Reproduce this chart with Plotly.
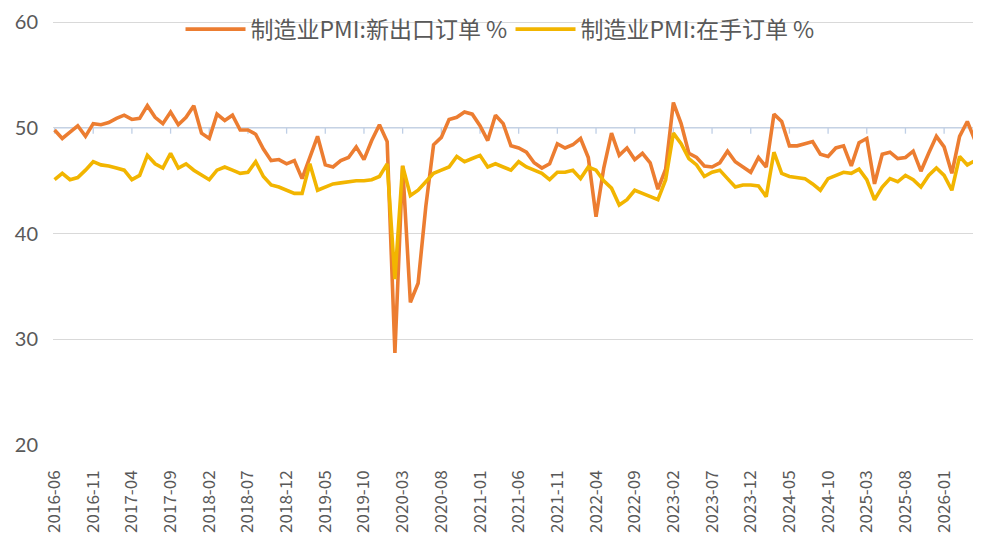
import plotly.graph_objects as go

# ---- data -------------------------------------------------------------
start_year, start_month, n_months = 2016, 6, 120
months = []
y, m = start_year, start_month
for _ in range(n_months):
    months.append(f"{y}-{m:02d}")
    m += 1
    if m > 12:
        m = 1
        y += 1

tick_labels = [
    "2016-06", "2016-11", "2017-04", "2017-09", "2018-02", "2018-07",
    "2018-12", "2019-05", "2019-10", "2020-03", "2020-08", "2021-01",
    "2021-06", "2021-11", "2022-04", "2022-09", "2023-02", "2023-07",
    "2023-12", "2024-05", "2024-10", "2025-03", "2025-08", "2026-01",
]

new_export_orders = [
    49.8, 49.0, 49.6, 50.2, 49.2, 50.4, 50.3, 50.5, 50.9, 51.2, 50.8, 50.9,
    52.1, 51.0, 50.4, 51.5, 50.3, 51.0, 52.1, 49.5, 49.0, 51.3, 50.7, 51.2,
    49.8, 49.8, 49.4, 48.0, 46.9, 47.0, 46.6, 46.9, 45.2, 47.1, 49.2, 46.5,
    46.3, 46.9, 47.2, 48.2, 47.0, 48.8, 50.3, 48.7,
    28.7, 46.4, 33.5, 35.3, 42.6, 48.4, 49.1, 50.8, 51.0, 51.5, 51.3, 50.2,
    48.8, 51.2, 50.4, 48.3, 48.1, 47.7, 46.7, 46.2, 46.6, 48.5, 48.1, 48.4,
    49.0, 47.2, 41.6, 46.2, 49.5, 47.4, 48.1, 47.0, 47.6, 46.7, 44.2, 46.1,
    52.4, 50.4, 47.6, 47.2, 46.4, 46.3, 46.7, 47.8, 46.8, 46.3, 45.8, 47.2,
    46.3, 51.3, 50.6, 48.3, 48.3, 48.5, 48.7, 47.5, 47.3, 48.1, 48.3, 46.4,
    48.6, 49.0, 44.7, 47.5, 47.7, 47.1, 47.2, 47.8, 45.9,
    47.6, 49.2, 48.2, 45.7, 49.2, 50.6, 48.8,
]

backlog_orders = [
    45.1, 45.7, 45.1, 45.3, 46.0, 46.8, 46.5, 46.4, 46.2, 46.0, 45.1, 45.5,
    47.4, 46.6, 46.2, 47.6, 46.2, 46.6, 46.0, 45.5, 45.1, 46.0, 46.3, 46.0,
    45.7, 45.8, 46.8, 45.4, 44.6, 44.4, 44.1, 43.8, 43.8, 46.6, 44.1, 44.4,
    44.7, 44.8, 44.9, 45.0, 45.0, 45.1, 45.4, 46.6,
    35.7, 46.4, 43.6, 44.1, 44.9, 45.7, 46.0, 46.3, 47.3, 46.8, 47.1, 47.4,
    46.3, 46.6, 46.3, 46.0, 46.8, 46.3, 46.0, 45.7, 45.1, 45.8, 45.8, 46.0,
    45.2, 46.3, 46.0, 45.0, 44.3, 42.7, 43.2, 44.1, 43.8, 43.5, 43.2, 45.1,
    49.5, 48.5, 47.1, 46.5, 45.4, 45.8, 46.0, 45.2, 44.4, 44.6, 44.6, 44.5,
    43.5, 47.7, 45.7, 45.4, 45.3, 45.2, 44.7, 44.1, 45.2, 45.5, 45.8, 45.7,
    46.1, 45.1, 43.2, 44.4, 45.2, 44.9, 45.5, 45.1, 44.4,
    45.5, 46.2, 45.5, 44.1, 47.3, 46.5, 46.9,
]

series_names = ["制造业PMI:新出口订单 %", "制造业PMI:在手订单 %"]
series_colors = ["#EC7D31", "#F2B500"]

# ---- figure -----------------------------------------------------------
font_family = "Noto Sans CJK SC, Noto Sans, sans-serif"
text_color = "#595959"
axis_blue = "#BFCFE6"

fig = go.Figure()
for name, vals, col in zip(series_names, [new_export_orders, backlog_orders], series_colors):
    fig.add_trace(go.Scatter(
        x=months, y=vals, mode="lines", name=name,
        line=dict(color=col, width=3.6, shape="linear"),
    ))

# horizontal axis line crossing at 50, with tick marks
axis_cross = 50
tick_len_units = 0.55
shapes = [dict(type="line", xref="x", yref="y", x0=months[0], x1=months[-1],
               y0=axis_cross, y1=axis_cross, layer="between",
               line=dict(color=axis_blue, width=1.3))]
for t in tick_labels:
    shapes.append(dict(type="line", xref="x", yref="y", x0=t, x1=t,
                       y0=axis_cross, y1=axis_cross - tick_len_units, layer="between",
                       line=dict(color=axis_blue, width=1.3)))
# white backing behind the legend (hides the top gridline there)
shapes.append(dict(type="rect", xref="paper", yref="paper", x0=0.142, x1=0.828,
                   y0=0.96, y1=1.02, layer="between", fillcolor="white",
                   line=dict(width=0)))

fig.update_layout(
    width=973, height=535,
    margin=dict(l=45, r=4, t=11, b=98, autoexpand=False),
    paper_bgcolor="white", plot_bgcolor="white",
    font=dict(family=font_family, color=text_color),
    showlegend=True,
    legend=dict(orientation="h", x=0.138, xanchor="left", y=0.976, yanchor="middle",
                bgcolor="rgba(0,0,0,0)", font=dict(size=23, color=text_color),
                itemwidth=60, entrywidth=255, entrywidthmode="pixels",
                traceorder="normal", tracegroupgap=0),
    shapes=shapes,
)
fig.update_xaxes(
    type="category", range=[-0.2, len(months) - 1 + 0.25],
    tickmode="array", tickvals=tick_labels, ticktext=tick_labels,
    tickangle=-90, tickfont=dict(size=17, color=text_color),
    showgrid=False, showline=False, zeroline=False, ticks="",
    ticklabelstandoff=21,
)
fig.update_yaxes(
    range=[20, 60.3], dtick=10, tick0=20,
    showgrid=True, gridcolor="#D9D9D9", gridwidth=1,
    zeroline=False, showline=False, ticks="",
    tickfont=dict(size=20, color=text_color, family="Lato, Noto Sans, sans-serif"),
    ticklabelstandoff=14, ticklabeloverflow="allow",
)

fig.write_html("out.html")
